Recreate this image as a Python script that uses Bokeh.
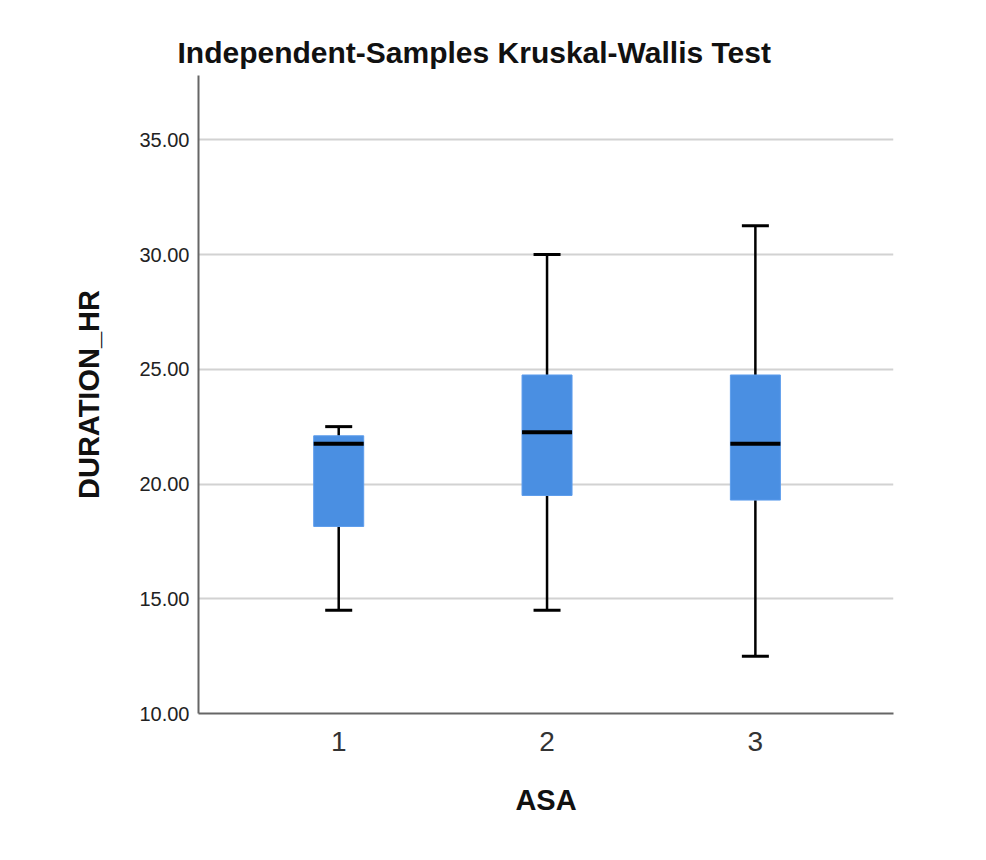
from bokeh.plotting import figure
from bokeh.models import FixedTicker, PrintfTickFormatter, Range1d, ColumnDataSource
from bokeh.embed import file_html
from bokeh.resources import INLINE

# ---- data ----
groups = ["1", "2", "3"]
x_pos = [1, 2, 3]
lower = [14.5, 14.5, 12.5]
q1 = [18.15, 19.5, 19.3]
median = [21.75, 22.25, 21.75]
q3 = [22.1, 24.75, 24.75]
upper = [22.5, 30.0, 31.25]
y_ticks = [10, 15, 20, 25, 30, 35]

box_w = 0.24
src = ColumnDataSource(dict(
    x=x_pos, lower=lower, q1=q1, median=median, q3=q3, upper=upper,
    left=[v - box_w / 2 for v in x_pos], right=[v + box_w / 2 for v in x_pos],
))

p = figure(width=970, height=844, output_backend="svg", toolbar_location=None,
           x_range=Range1d(0.327, 3.663), y_range=Range1d(10, 37.8),
           min_border_left=198, min_border_right=77, min_border_top=75,
           min_border_bottom=131)

p.title.text = "Independent-Samples Kruskal-Wallis Test"
p.title.text_font = "Liberation Sans"
p.title.text_font_size = "30px"
p.title.text_font_style = "bold"
p.title.text_color = "#111111"
p.title.align = "left"
p.title.offset = -21
p.title.standoff = 13

p.outline_line_color = None
p.background_fill_color = "white"
p.border_fill_color = "white"

# whiskers
p.segment(x0="x", y0="q3", x1="x", y1="upper", source=src, line_color="black", line_width=2.5)
p.segment(x0="x", y0="lower", x1="x", y1="q1", source=src, line_color="black", line_width=2.5)
p.scatter(x="x", y="upper", source=src, marker="dash", size=27, line_color="black", line_width=3)
p.scatter(x="x", y="lower", source=src, marker="dash", size=27, line_color="black", line_width=3)
# boxes
p.vbar(x="x", width=box_w, bottom="q1", top="q3", source=src,
       fill_color="#4a8fe2", line_color="#5c9cec", line_width=1)
# medians
p.segment(x0="left", y0="median", x1="right", y1="median", source=src,
          line_color="black", line_width=4)

# axes
p.xaxis.ticker = FixedTicker(ticks=x_pos)
p.xaxis.major_label_overrides = {v: g for v, g in zip(x_pos, groups)}
p.yaxis.ticker = FixedTicker(ticks=y_ticks)
p.yaxis.formatter = PrintfTickFormatter(format="%.2f")

for ax in (p.xaxis, p.yaxis):
    ax.axis_line_color = "#666666"
    ax.axis_line_width = 2
    ax.major_tick_line_color = None
    ax.minor_tick_line_color = None
    ax.major_tick_out = 0
    ax.major_tick_in = 0
    ax.axis_label_text_font = "Liberation Sans"
    ax.axis_label_text_font_style = "bold"
    ax.axis_label_text_font_size = "29px"
    ax.axis_label_text_color = "#111111"
    ax.major_label_text_font = "Liberation Sans"

p.xaxis.axis_label = "ASA"
p.xaxis.major_label_text_font_size = "28px"
p.xaxis.major_label_text_color = "#333333"
p.xaxis.major_label_standoff = 18
p.xaxis.axis_label_standoff = 30

p.yaxis.axis_label = "DURATION_HR"
p.yaxis.major_label_text_font_size = "20px"
p.yaxis.major_label_text_color = "#222222"
p.yaxis.major_label_standoff = 9
p.yaxis.axis_label_standoff = 31

p.xgrid.grid_line_color = None
p.ygrid.ticker = FixedTicker(ticks=y_ticks[1:])
p.ygrid.grid_line_color = "#d2d2d2"
p.ygrid.grid_line_width = 2

open("out.html", "w").write(file_html(p, INLINE))
